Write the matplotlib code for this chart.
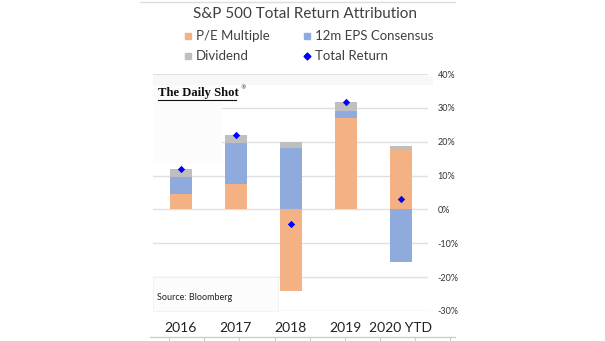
import matplotlib
matplotlib.use("Agg")
import matplotlib.pyplot as plt
import numpy as np
from matplotlib.patches import Rectangle
from matplotlib.lines import Line2D

categories = ["2016", "2017", "2018", "2019", "2020 YTD"]
pe_multiple = [4.7, 7.5, -24.1, 27.1, 17.6]
eps_consensus = [4.8, 12.2, 18.1, 2.0, -15.4]
dividend = [2.4, 2.3, 1.8, 2.7, 1.1]
total_return = [12.0, 22.0, -4.4, 31.8, 3.0]
yticks = [-30, -20, -10, 0, 10, 20, 30, 40]

c_pe = "#F4B183"
c_eps = "#8FAADC"
c_div = "#BFBFBF"
c_tr = "#0000FF"

plt.rcParams['font.family'] = ['Lato', 'DejaVu Sans']

fig = plt.figure(figsize=(6.05, 3.41), dpi=100)
W, H = 605, 341
ax = fig.add_axes([153 / W, 1 - 311 / H, (428 - 153) / W, (311 - 74) / H])

# faint background boxes (logo & source areas)
fig.patches.append(Rectangle((153 / W, 1 - 163 / H), (222 - 153) / W, (163 - 80) / H,
                             transform=fig.transFigure, facecolor="#fcfcfc", edgecolor="none", zorder=0))
fig.patches.append(Rectangle((153 / W, 1 - 85 / H), (433 - 153) / W, (85 - 76) / H,
                             transform=fig.transFigure, facecolor="#f7f7f7", edgecolor="none", zorder=0))
fig.patches.append(Rectangle((153 / W, 1 - 311 / H), (278 - 153) / W, (311 - 277) / H,
                             transform=fig.transFigure, facecolor="#fcfcfc", edgecolor="#f0f0f0", lw=0.5, zorder=0))

x = np.arange(len(categories))
w = 0.4
pos_base = np.zeros(len(x))
neg_base = np.zeros(len(x))
for vals, col in [(pe_multiple, c_pe), (eps_consensus, c_eps), (dividend, c_div)]:
    v = np.array(vals, dtype=float)
    bottoms = np.where(v >= 0, pos_base, neg_base)
    ax.bar(x, v, w, bottom=bottoms, color=col, zorder=2)
    pos_base = pos_base + np.where(v >= 0, v, 0)
    neg_base = neg_base + np.where(v < 0, v, 0)

ax.scatter(x, total_return, marker="D", s=14, color=c_tr, zorder=4, linewidths=0)

ax.set_xlim(-0.5, len(x) - 0.5)
ax.set_ylim(-30, 40)
ax.set_yticks(yticks)
ax.set_yticklabels([f"{t}%" for t in yticks], fontsize=6.5, color="#333333")
ax.yaxis.tick_right()
ax.tick_params(axis="y", length=0, pad=7)
ax.set_xticks(x)
ax.set_xticklabels(categories, fontsize=10, color="#222222")
ax.tick_params(axis="x", length=0, pad=8)
ax.grid(axis="y", color="#e0e0e0", lw=1, zorder=0)
for s in ax.spines.values():
    s.set_visible(False)
ax.set_facecolor("none")

fig.text(305 / W, 1 - 14 / H, "S&P 500 Total Return Attribution", ha="center", va="center",
         fontsize=11, color="#404040")

handles = [
    ("s", c_pe, 5), ("s", c_eps, 5), ("s", c_div, 5), ("D", c_tr, 3.5),
]
labels = ["P/E Multiple", "12m EPS Consensus", "Dividend", "Total Return"]
pos = [(188, 36), (307, 36), (188, 56), (307, 56)]
for (mk, col, ms), lab, (px, py) in zip(handles, labels, pos):
    fig.lines.append(Line2D([px / W], [1 - py / H], marker=mk, ls="none",
                            color=col, markersize=ms, transform=fig.transFigure))
    fig.text((px + 8) / W, 1 - py / H, lab, ha="left", va="center", fontsize=9.5, color="#404040")

fig.text(158 / W, 1 - 93 / H, "The Daily Shot", ha="left", va="center", fontsize=9.1,
         family="Liberation Serif", weight="bold", color="#111111")
fig.text(240 / W, 1 - 88 / H, "®", ha="left", va="center", fontsize=4, family="DejaVu Serif",
         color="#111111")
fig.lines.append(Line2D([158 / W, 236 / W], [1 - 100 / H, 1 - 100 / H], color="#111111", lw=0.8,
                        transform=fig.transFigure))

fig.text(157 / W, 1 - 297 / H, "Source: Bloomberg", ha="left", va="center", fontsize=6.5, color="#222222")

# page frame lines
fig.lines.append(Line2D([140 / W, 455 / W], [1 - 2 / H, 1 - 2 / H], color="#dddddd", lw=1,
                        transform=fig.transFigure))
fig.lines.append(Line2D([150 / W, 455 / W], [1 - 337 / H, 1 - 337 / H], color="#cccccc", lw=1,
                        transform=fig.transFigure))
for tx in [169, 204, 239, 275, 310, 345, 380, 415, 450]:
    fig.lines.append(Line2D([tx / W, tx / W], [1 - 337 / H, 1 - 341 / H], color="#cccccc", lw=0.8,
                            transform=fig.transFigure))

fig.savefig("out.png", dpi=100)
